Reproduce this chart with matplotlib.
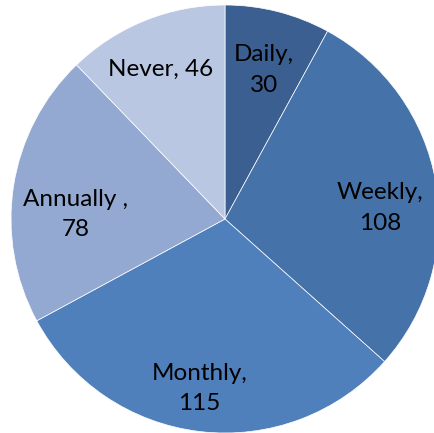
import numpy as np
import matplotlib.pyplot as plt

# Frequency of use
categories = ['Daily', 'Weekly', 'Monthly', 'Annually ', 'Never']
counts = [30, 108, 115, 78, 46]
label_text = ['Daily,\n30', 'Weekly,\n108', 'Monthly,\n115', 'Annually ,\n78', 'Never, 46']

colors = ['#3b5f90', '#4572a9', '#4f80bc', '#94a9d1', '#bac7e2']
# label placement: radius fraction and angle nudge from wedge middle (deg)
label_radius = [0.72, 0.726, 0.80, 0.70, 0.763]
label_nudge = [-0.4, -5.7, -2.0, 7.2, 1.3]

plt.rcParams['font.family'] = ['Lato', 'DejaVu Sans']

fig = plt.figure(figsize=(4.35, 4.33), dpi=100)
ax = fig.add_axes([11 / 435, 0, 428 / 435, 428 / 433])

wedges, texts = ax.pie(counts, labels=label_text, colors=colors, startangle=90,
                       counterclock=False, labeldistance=0.75,
                       wedgeprops=dict(edgecolor='white', linewidth=0.5),
                       textprops=dict(fontsize=17.5, color='black'))

# Put each label centred inside its wedge
for w, t, r, d in zip(wedges, texts, label_radius, label_nudge):
    mid = np.deg2rad((w.theta1 + w.theta2) / 2 + d)
    t.set_position((r * np.cos(mid), r * np.sin(mid)))
    t.set_ha('center')
    t.set_va('center')
    t.set_multialignment('center')
    t.set_linespacing(1.55)

ax.set_xlim(-1, 1)
ax.set_ylim(-1, 1)
ax.set_aspect('equal')
ax.axis('off')

plt.savefig('out.png')
